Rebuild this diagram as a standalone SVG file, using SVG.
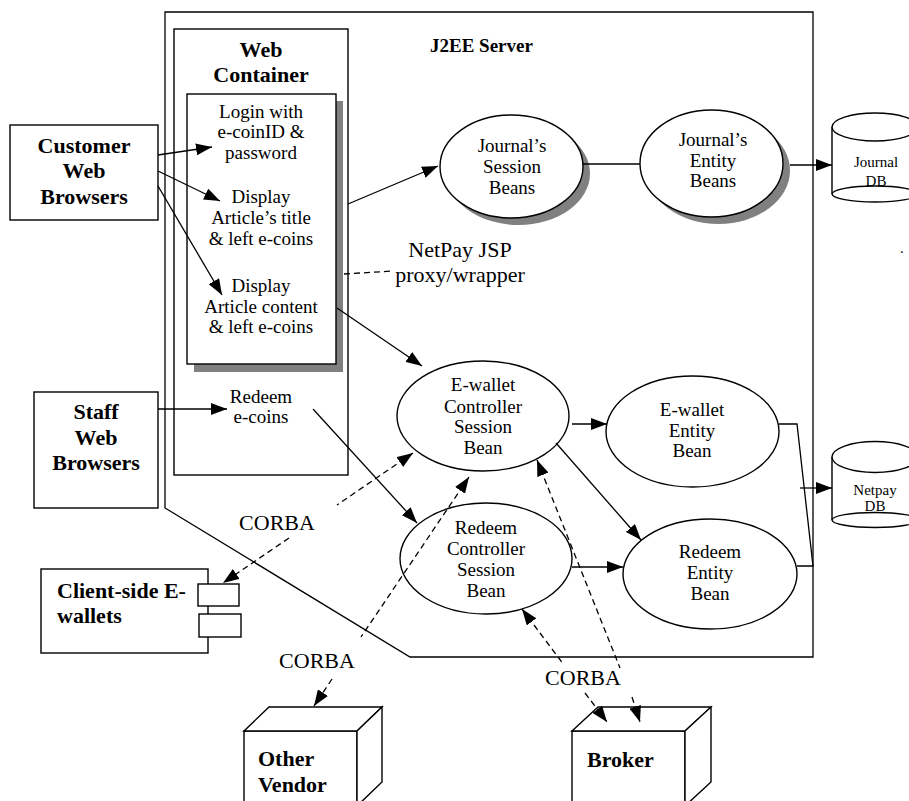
<svg xmlns="http://www.w3.org/2000/svg" width="909" height="801" viewBox="0 0 909 801">
<defs>
<style>
text{font-family:"Liberation Serif","Times New Roman",serif;fill:#000}
.t{font-size:19px;text-anchor:middle}
.b{font-size:22px;font-weight:bold;text-anchor:middle}
.bl{font-size:22px;font-weight:bold}
.s{font-size:15px;text-anchor:middle}
.lab{font-size:22px;text-anchor:middle}
.sh{fill:#808080;stroke:none}
.box{fill:#fff;stroke:#000;stroke-width:1.4}
.ln{fill:none;stroke:#000;stroke-width:1.3}
.arr{marker-end:url(#ah)}
.dash{fill:none;stroke:#000;stroke-width:1.3;stroke-dasharray:6 4}
.dbl{marker-start:url(#ah);marker-end:url(#ah)}
</style>
<marker id="ah" viewBox="0 0 16 12" refX="16" refY="6" markerWidth="16" markerHeight="12" markerUnits="userSpaceOnUse" orient="auto-start-reverse">
<path d="M0,0 L16,6 L0,12 Z" fill="#000"/>
</marker>
</defs>
<rect width="909" height="801" fill="#fff"/>

<g id="j2ee-server">
<polygon class="ln" points="165,12 813,12 813,657 410,657 165,508"/>
<text x="430" y="52" style="font-size:19px;font-weight:bold">J2EE Server</text>
</g>

<g id="web-container">
<rect class="box" x="174" y="29" width="174" height="446"/>
<text class="b" x="261" y="57">Web</text>
<text class="b" x="261" y="82">Container</text>
<rect class="sh" x="194" y="101" width="149" height="271"/>
<rect class="box" x="187" y="94" width="149" height="270"/>
</g>

<g id="login">
<text class="t" x="261" y="118">Login with</text>
<text class="t" x="261" y="138">e-coinID &amp;</text>
<text class="t" x="261" y="159">password</text>
</g>
<g id="display-title">
<text class="t" x="261" y="203">Display</text>
<text class="t" x="261" y="224">Article’s title</text>
<text class="t" x="261" y="245">&amp; left e-coins</text>
</g>
<g id="display-content">
<text class="t" x="261" y="292">Display</text>
<text class="t" x="261" y="313">Article content</text>
<text class="t" x="261" y="333">&amp; left e-coins</text>
</g>
<g id="redeem-ecoins">
<text class="t" x="261" y="403">Redeem</text>
<text class="t" x="261" y="423">e-coins</text>
</g>

<g id="customer-web-browsers">
<rect class="box" x="10" y="125" width="148" height="95"/>
<text class="b" x="84" y="153">Customer</text>
<text class="b" x="84" y="178">Web</text>
<text class="b" x="84" y="204">Browsers</text>
</g>

<g id="staff-web-browsers">
<rect class="box" x="34" y="392" width="124" height="116"/>
<text class="b" x="96" y="419">Staff</text>
<text class="b" x="96" y="445">Web</text>
<text class="b" x="96" y="470">Browsers</text>
</g>

<g id="journal-session-beans">
<ellipse class="sh" cx="518.5" cy="173.5" rx="71.5" ry="51.5"/>
<ellipse class="box" cx="511.5" cy="166.5" rx="71.5" ry="51.5"/>
<text class="t" x="512" y="152">Journal’s</text>
<text class="t" x="512" y="173">Session</text>
<text class="t" x="512" y="194">Beans</text>
</g>

<g id="journal-entity-beans">
<ellipse class="sh" cx="718.5" cy="170.5" rx="71.5" ry="53.5"/>
<ellipse class="box" cx="711.5" cy="163.5" rx="71.5" ry="53.5"/>
<text class="t" x="713" y="146">Journal’s</text>
<text class="t" x="713" y="167">Entity</text>
<text class="t" x="713" y="187">Beans</text>
</g>

<g id="journal-db">
<path class="box" d="M832,127 L832,194 A43,8 0 0 0 918,194 L918,127"/>
<path class="ln" d="M832,194 A43,8 0 0 1 918,194"/>
<ellipse class="box" cx="875" cy="127" rx="43" ry="14"/>
<text class="s" x="876" y="167">Journal</text>
<text class="s" x="876" y="186">DB</text>
</g>

<g id="netpay-db">
<path class="box" d="M832,457 L832,520 A43,7.5 0 0 0 918,520 L918,457"/>
<path class="ln" d="M832,520 A43,7.5 0 0 1 918,520"/>
<ellipse class="box" cx="875" cy="457" rx="43" ry="15.5"/>
<text class="s" x="875" y="495">Netpay</text>
<text class="s" x="875" y="511">DB</text>
</g>

<g id="ewallet-controller">
<ellipse class="box" cx="483" cy="416" rx="86" ry="55"/>
<text class="t" x="483" y="391">E-wallet</text>
<text class="t" x="483" y="413">Controller</text>
<text class="t" x="483" y="433">Session</text>
<text class="t" x="483" y="454">Bean</text>
</g>

<g id="redeem-controller">
<ellipse class="box" cx="486" cy="558.5" rx="86" ry="55.5"/>
<text class="t" x="486" y="534">Redeem</text>
<text class="t" x="486" y="555">Controller</text>
<text class="t" x="486" y="576">Session</text>
<text class="t" x="486" y="597">Bean</text>
</g>

<g id="ewallet-entity">
<ellipse class="box" cx="692.5" cy="431.5" rx="86.5" ry="55.5"/>
<text class="t" x="692" y="416">E-wallet</text>
<text class="t" x="692" y="437">Entity</text>
<text class="t" x="692" y="457">Bean</text>
</g>

<g id="redeem-entity">
<ellipse class="box" cx="710" cy="574" rx="87" ry="55"/>
<text class="t" x="710" y="558">Redeem</text>
<text class="t" x="710" y="579">Entity</text>
<text class="t" x="710" y="600">Bean</text>
</g>

<g id="client-side-ewallets">
<rect class="box" x="41" y="569" width="167" height="84"/>
<rect class="box" x="198" y="584" width="41" height="22"/>
<rect class="box" x="199" y="614" width="42" height="23"/>
<text class="bl" x="57" y="598">Client-side E-</text>
<text class="bl" x="57" y="623">wallets</text>
</g>

<g id="other-vendor">
<rect class="box" x="244" y="731" width="113" height="80"/>
<polygon class="box" points="244,731 269,707 382,707 357,731"/>
<polygon class="box" points="357,731 382,707 382,782 357,806"/>
<text class="bl" x="258" y="766">Other</text>
<text class="bl" x="258" y="792">Vendor</text>
</g>

<g id="broker">
<rect class="box" x="572" y="731" width="113" height="80"/>
<polygon class="box" points="572,731 598,707 711,707 685,731"/>
<polygon class="box" points="685,731 711,707 711,782 685,806"/>
<text class="bl" x="587" y="767">Broker</text>
</g>

<g id="connectors">
<line class="ln arr" x1="158" y1="155" x2="212" y2="147"/>
<line class="ln arr" x1="158" y1="171" x2="220" y2="201"/>
<line class="ln arr" x1="158" y1="186" x2="222" y2="295"/>
<line class="ln arr" x1="348" y1="204" x2="438" y2="166"/>
<line class="ln" x1="583" y1="164" x2="640" y2="164"/>
<line class="ln arr" x1="790" y1="165" x2="832" y2="165"/>
<line class="dash" x1="344" y1="274" x2="393" y2="271"/>
<line class="ln arr" x1="337" y1="308" x2="422" y2="366"/>
<line class="ln arr" x1="158" y1="409" x2="227" y2="409"/>
<line class="ln arr" x1="313" y1="409" x2="417" y2="523"/>
<line class="ln arr" x1="572" y1="424" x2="607" y2="424"/>
<line class="ln arr" x1="556" y1="443" x2="641" y2="540"/>
<line class="ln arr" x1="572" y1="567" x2="623" y2="567"/>
<polyline class="ln" points="779,424 797,424 813,566 797,566"/>
<line class="ln arr" x1="800" y1="488" x2="832" y2="488"/>
<path class="dash dbl" d="M413,453 L337,505 M289,538 L223,583"/>
<path class="dash dbl" d="M469,477 L361,637 M332,679 L314,706"/>
<path class="dash dbl" d="M522,609 L564,665 M585,693 L607,722"/>
<path class="dash dbl" d="M537,460 L620,668 M632,697 L640,722"/>
<text class="lab" x="460" y="257">NetPay JSP</text>
<text class="lab" x="460" y="282">proxy/wrapper</text>
<text class="lab" x="277" y="530">CORBA</text>
<text class="lab" x="317" y="668">CORBA</text>
<text class="lab" x="583" y="685">CORBA</text>
<text x="900" y="253" style="font-size:15px">.</text>
</g>
</svg>
